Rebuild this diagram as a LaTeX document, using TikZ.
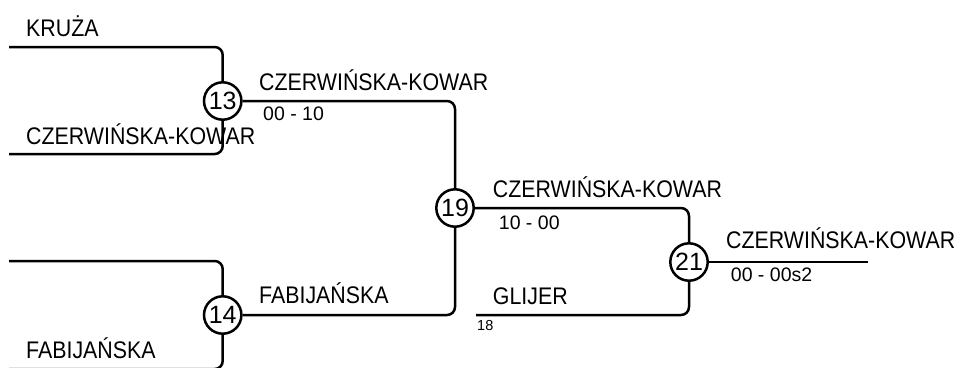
\documentclass[tikz,border=0pt]{standalone}
\usepackage{fontspec}
\setmainfont{Liberation Sans}
\newfontfamily\namefont[FakeStretch=0.89]{Liberation Sans}
\usetikzlibrary{positioning}

\begin{document}
\begin{tikzpicture}[x=1pt, y=-1pt,
    bline/.style={line width=2.5pt, rounded corners=8pt},
    match/.style={circle, draw, line width=2.5pt, minimum size=37.4pt, inner sep=0pt,
      font=\fontsize{25}{28}\selectfont},
    player/.style={anchor=base west, inner sep=0pt, font=\namefont\fontsize{24}{28}\selectfont},
    score/.style={anchor=base west, inner sep=0pt, font=\fontsize{19.5}{22}\selectfont}]

  \useasboundingbox (0,0) rectangle (960,367);

  % Match circles
  \node[match] (m13) at (222.7,101) {13};
  \node[match] (m14) at (222.7,315) {14};
  \node[match] (m19) at (455,208) {19};
  \node[match] (m21) at (689,262) {21};

  % Free ends of the lines
  \coordinate (k1) at (9,47);
  \coordinate (c1) at (9,154);
  \coordinate (f1) at (9,261);
  \coordinate (f2) at (9,369);
  \coordinate (g1) at (476,315);
  \coordinate (w1) at (868,262);

  % First round
  \draw[bline] (k1) -| (m13);
  \draw[bline] (c1) -| (m13);
  \draw[bline] (f1) -| (m14);
  \draw[bline] (f2) -| (m14);

  % Second round
  \draw[bline] (m13) -| (m19);
  \draw[bline] (m14) -| (m19);

  % Third round and final
  \draw[bline] (m19) -| (m21);
  \draw[bline] (g1) -| (m21);
  \draw[bline] (m21) -- (w1);

  % Names
  \node[player] (n1) at (26,36) {KRUŻA};
  \node[player] (n2) at (26,144) {CZERWIŃSKA-KOWAR};
  \node[player] (n3) at (26,358) {FABIJAŃSKA};
  \node[player] (n4) at (259,90) {CZERWIŃSKA-KOWAR};
  \node[player] (n5) at (259,303) {FABIJAŃSKA};
  \node[player] (n6) at (492.7,197.3) {CZERWIŃSKA-KOWAR};
  \node[player] (n7) at (492.7,304.3) {GLIJER};
  \node[player] (n8) at (726,248.3) {CZERWIŃSKA-KOWAR};

  % Scores
  \node[score] (s1) at (263,120) {00 - 10};
  \node[score] (s2) at (498.7,229.3) {10 - 00};
  \node[score] (s3) at (730.7,281.7) {00 - 00s2};
  \node[score, font=\fontsize{14.5}{17}\selectfont] (s4) at (477,330) {18};

\end{tikzpicture}
\end{document}
